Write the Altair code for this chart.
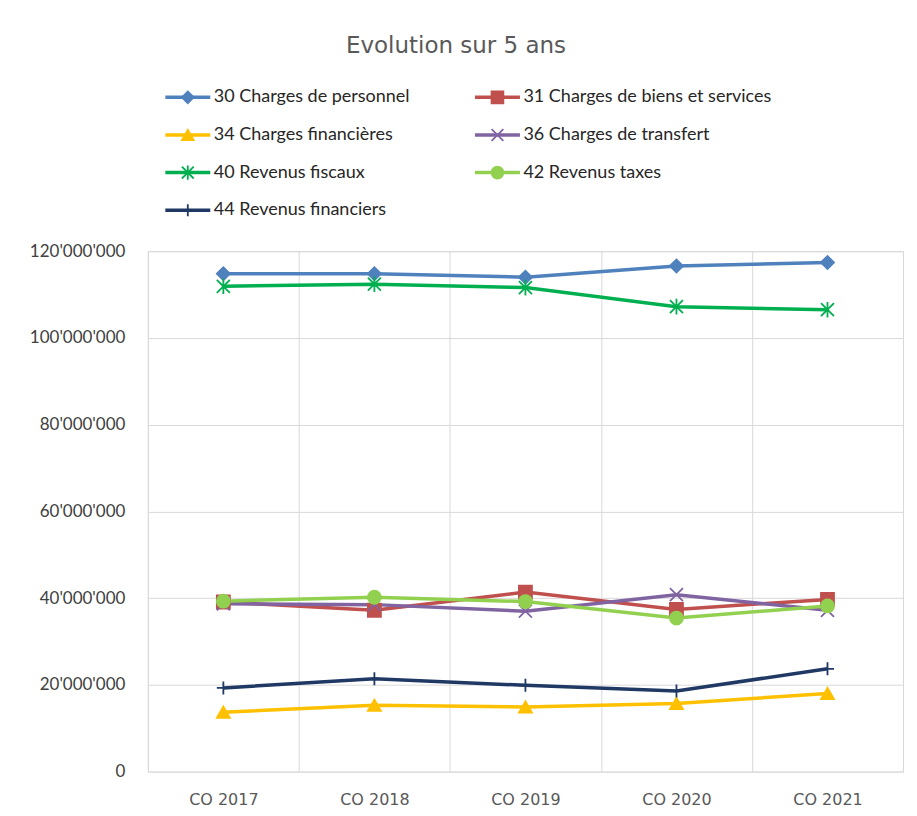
import altair as alt
import pandas as pd

years = ["CO 2017", "CO 2018", "CO 2019", "CO 2020", "CO 2021"]
series = [
    "30 Charges de personnel",
    "31 Charges de biens et services",
    "34 Charges financières",
    "36 Charges de transfert",
    "40 Revenus fiscaux",
    "42 Revenus taxes",
    "44 Revenus financiers",
]
s30 = [114.8e6, 114.8e6, 114.0e6, 116.6e6, 117.4e6]
s31 = [39.1e6, 37.2e6, 41.4e6, 37.4e6, 39.7e6]
s34 = [13.7e6, 15.3e6, 14.9e6, 15.7e6, 18.0e6]
s36 = [38.7e6, 38.5e6, 37.0e6, 40.8e6, 37.2e6]
s40 = [111.9e6, 112.4e6, 111.6e6, 107.2e6, 106.5e6]
s42 = [39.3e6, 40.2e6, 39.2e6, 35.4e6, 38.2e6]
s44 = [19.3e6, 21.4e6, 19.9e6, 18.6e6, 23.7e6]
values = [s30, s31, s34, s36, s40, s42, s44]

colors = ["#4F81BD", "#C0504D", "#FFC000", "#8064A2", "#00B050", "#92D050", "#1F3864"]
shapes = [
    "diamond",
    "square",
    "triangle-up",
    "M-1,-1L1,1M-1,1L1,-1",
    "M-1,-1L1,1M-1,1L1,-1M0,-1.2L0,1.2",
    "circle",
    "M-1,0L1,0M0,-1L0,1",
]
y_ticks = [0, 20e6, 40e6, 60e6, 80e6, 100e6, 120e6]
legend_col = [0, 1, 0, 1, 0, 1, 0]
legend_row = [0, 0, 1, 1, 2, 2, 3]

rows = []
for si, name in enumerate(series):
    for yi, yr in enumerate(years):
        rows.append({"series": name, "year": yr, "value": values[si][yi], "ord": si})
df = pd.DataFrame(rows)
leg = pd.DataFrame({"series": series, "col": legend_col, "row": legend_row})

color_scale = alt.Scale(domain=series, range=colors)
shape_scale = alt.Scale(domain=series, range=shapes)

FONT = "Lato"

base = alt.Chart(df).encode(
    x=alt.X(
        "year:N",
        sort=years,
        scale=alt.Scale(paddingInner=0, paddingOuter=0),
        axis=alt.Axis(
            title=None, labelAngle=0, domain=False, ticks=False, tickBand="extent",
            grid=True, gridColor="#d9d9d9", gridWidth=1,
            labelFont="DejaVu Sans", labelFontSize=16, labelColor="#595959",
            labelPadding=20,
        ),
    ),
    y=alt.Y(
        "value:Q",
        scale=alt.Scale(domain=[0, 120e6], nice=False),
        axis=alt.Axis(
            title=None, values=y_ticks, domain=False, ticks=False,
            grid=True, gridColor="#d9d9d9", gridWidth=1,
            labelFont=FONT, labelFontSize=17, labelColor="#404040",
            labelPadding=23, minExtent=139, maxExtent=139,
            labelExpr="replace(format(datum.value, ','), regexp(',', 'g'), \"'\")",
        ),
    ),
    color=alt.Color("series:N", scale=color_scale, legend=None),
    order=alt.Order("ord:Q"),
)

lines = base.mark_line(strokeWidth=3.5)
points = base.mark_point(filled=True, opacity=1, size=170, strokeWidth=1.8).encode(
    shape=alt.Shape("series:N", scale=shape_scale, legend=None),
    stroke=alt.Stroke("series:N", scale=color_scale, legend=None),
)

main = alt.layer(lines, points).properties(
    width=756, height=521, view=alt.ViewBackground(stroke="#d9d9d9")
)

lbase = alt.Chart(leg).encode(
    x=alt.X("col:Q", scale=alt.Scale(domain=[0, 1], range=[40, 350]), axis=None),
    y=alt.Y("row:Q", scale=alt.Scale(domain=[0, 3], range=[17, 130]), axis=None),
    color=alt.Color("series:N", scale=color_scale, legend=None),
)
lline = lbase.mark_point(shape="M-1,0L1,0", size=2025, strokeWidth=3.5, filled=False, opacity=1)
lmark = lbase.mark_point(filled=True, opacity=1, size=140, strokeWidth=1.8).encode(
    shape=alt.Shape("series:N", scale=shape_scale, legend=None),
    stroke=alt.Stroke("series:N", scale=color_scale, legend=None),
)
ltext = lbase.mark_text(align="left", baseline="middle", dx=26, font=FONT, fontSize=18, color="#262626").encode(
    text="series:N", color=alt.value("#262626")
)
legend_chart = alt.layer(lline, lmark, ltext).properties(
    width=756, height=160, view=alt.ViewBackground(stroke=None)
)

chart = alt.vconcat(legend_chart, main, spacing=1).properties(
    title=alt.TitleParams(
        "Evolution sur 5 ans", font="DejaVu Sans", fontSize=23, fontWeight="normal",
        color="#595959", anchor="middle", offset=22,
    ),
    padding={"left": 0, "top": 27, "right": 5, "bottom": 0},
).configure(background="white")

chart.save("out.html", embed_options={"renderer": "svg", "actions": False})
